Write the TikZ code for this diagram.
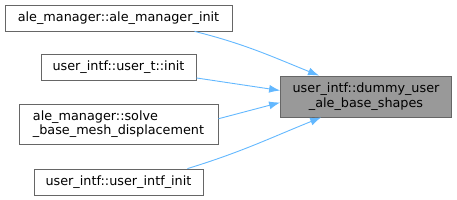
\documentclass[tikz,border=0pt]{standalone}
\usepackage{fontspec}
\setmainfont{DejaVu Sans}
\usetikzlibrary{arrows.meta}

\definecolor{edgeblue}{HTML}{63B8FF}
\definecolor{boxline}{HTML}{666666}
\definecolor{curfill}{HTML}{999999}

\begin{document}
\begin{tikzpicture}[
  x=1pt, y=-1pt,
  font=\fontsize{12.8}{14.5}\selectfont,
  caller/.style={
    draw=boxline,
    fill=white,
    line width=0.8pt,
    inner sep=0pt,
    minimum height=26pt
  },
  current/.style={
    caller,
    fill=curfill,
    minimum width=171pt,
    minimum height=41pt,
    align=center
  },
  call/.style={
    draw=edgeblue,
    line width=0.9pt,
    -{Latex[length=11pt,width=8pt]}
  }
]
\useasboundingbox (0,0) rectangle (457,200);

% Callers on the left.
\node[caller, minimum width=227pt] (aleinit) at (118.5,18)
  {ale\_manager::ale\_manager\_init};
\node[caller, minimum width=155pt] (userinit) at (118.5,67)
  {user\_intf::user\_t::init};
\node[caller, minimum width=199pt, minimum height=40pt, align=left] (solvebase)
  at (118.5,124) {ale\_manager::solve\\\_base\_mesh\_displacement};
\node[caller, minimum width=169pt] (intfinit) at (118.5,182)
  {user\_intf::user\_intf\_init};

% The function being called.
\node[current] (dummy) at (366,96.5) {user\_intf::dummy\_user\\\_ale\_base\_shapes};

\draw[call] (aleinit.-10) to[out=-14, in=158] (dummy.156);
\draw[call] (userinit.-8) -- (dummy.176);
\draw[call] (solvebase.3) -- (dummy.184);
\draw[call] (intfinit.11) to[out=17, in=-158] (dummy.205);

\end{tikzpicture}
\end{document}
